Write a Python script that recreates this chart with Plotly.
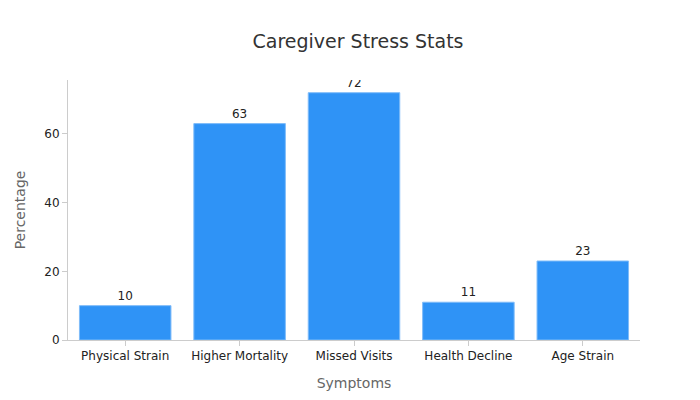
import plotly.graph_objects as go

categories = ["Physical Strain", "Higher Mortality", "Missed Visits", "Health Decline", "Age Strain"]
values = [10, 63, 72, 11, 23]

fig = go.Figure(go.Bar(
    x=categories, y=values, text=values, textposition="outside",
    marker=dict(color="#2f93f6", line=dict(color="#7fbcf9", width=1)),
    textfont=dict(size=12, color="#222"), cliponaxis=True,
))
fig.update_layout(
    width=700, height=400,
    title=dict(text="Caregiver Stress Stats", x=0.5, y=0.917, xanchor="center", yanchor="middle",
               font=dict(size=19, color="#333")),
    font=dict(family="DejaVu Sans", size=12, color="#333"),
    plot_bgcolor="white", paper_bgcolor="white",
    margin=dict(l=52, r=68, t=72, b=68),
    bargap=0.2, showlegend=False,
)
fig.update_xaxes(title=dict(text="Symptoms", font=dict(size=14, color="#666")),
                 showline=True, linecolor="#ccc", ticks="outside", tickcolor="#ccc",
                 tickfont=dict(size=12, color="#222"))
fig.update_yaxes(title=dict(text="Percentage", font=dict(size=14, color="#666")),
                 range=[0, 75.7], showline=True, linecolor="#ccc", ticks="outside",
                 tickcolor="#ccc", showgrid=False, zeroline=False,
                 tickvals=[0, 20, 40, 60], tickfont=dict(size=12, color="#222"))
fig.write_html("out.html")
